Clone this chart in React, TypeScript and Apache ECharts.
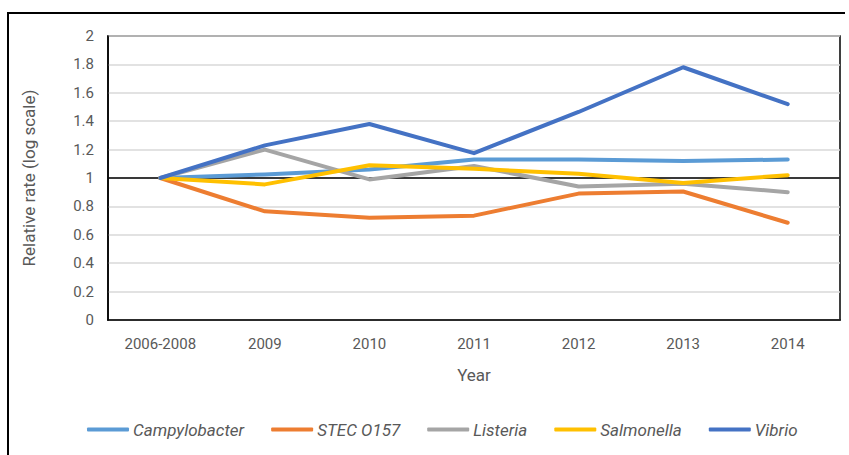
import React, { useEffect, useRef } from "react";
import * as echarts from "echarts";

const categories = ["2006-2008", "2009", "2010", "2011", "2012", "2013", "2014"];
const campylobacter = [1, 1.025, 1.06, 1.13, 1.13, 1.12, 1.13];
const stec = [1, 0.765, 0.72, 0.735, 0.89, 0.905, 0.685];
const listeria = [1, 1.2, 0.99, 1.085, 0.94, 0.96, 0.9];
const salmonella = [1, 0.955, 1.09, 1.065, 1.03, 0.965, 1.02];
const vibrio = [1, 1.23, 1.38, 1.175, 1.465, 1.78, 1.52];
const yTicks = [0, 0.2, 0.4, 0.6, 0.8, 1, 1.2, 1.4, 1.6, 1.8, 2];

const seriesDefs = [
  { name: "Campylobacter", data: campylobacter, color: "#5B9BD5" },
  { name: "STEC O157", data: stec, color: "#ED7D31" },
  { name: "Listeria", data: listeria, color: "#A5A5A5" },
  { name: "Salmonella", data: salmonella, color: "#FFC000" },
  { name: "Vibrio", data: vibrio, color: "#4472C4" },
];

const FONT = "Roboto, sans-serif";

export default function App() {
  const ref = useRef<HTMLDivElement>(null);
  useEffect(() => {
    if (!ref.current) return;
    const chart = echarts.init(ref.current, null, { renderer: "svg" });
    chart.setOption({
      animation: false,
      backgroundColor: "#ffffff",
      grid: {
        left: 108,
        top: 36,
        right: 9,
        bottom: 135,
        show: true,
        borderColor: "#000000",
        borderWidth: 1.5,
      },
      graphic: [
        {
          type: "polyline",
          shape: { points: [[8, 455], [8, 13], [845, 13]] },
          style: { stroke: "#000000", lineWidth: 2, fill: "none" },
          silent: true,
        },
      ],
      legend: {
        bottom: 12,
        left: 82,
        itemWidth: 42,
        itemHeight: 4,
        itemGap: 27,
        icon: "roundRect",
        textStyle: {
          fontFamily: FONT,
          fontStyle: "italic",
          fontSize: 17,
          color: "#595959",
          padding: [0, 0, 0, -1],
        },
        data: seriesDefs.map((s) => s.name),
      },
      xAxis: {
        type: "category",
        data: categories,
        boundaryGap: true,
        name: "Year",
        nameLocation: "middle",
        nameGap: 46,
        nameTextStyle: { fontFamily: FONT, fontSize: 17, color: "#595959" },
        axisLine: { show: true, lineStyle: { color: "#000000", width: 1.5 } },
        axisTick: { show: false },
        axisLabel: { fontFamily: FONT, fontSize: 15, color: "#595959", margin: 16 },
      },
      yAxis: {
        type: "value",
        min: 0,
        max: 2,
        interval: 0.2,
        name: "Relative rate (log scale)",
        nameLocation: "middle",
        nameGap: 71,
        nameTextStyle: { fontFamily: FONT, fontSize: 17, color: "#595959" },
        axisLine: { show: true, lineStyle: { color: "#000000", width: 1.5 } },
        axisTick: { show: false },
        axisLabel: {
          fontFamily: FONT,
          fontSize: 15,
          color: "#595959",
          margin: 14,
          formatter: (v: number) => {
            const t = yTicks.find((x) => Math.abs(x - v) < 1e-6);
            return String(t !== undefined ? Number(t.toFixed(1)) : v);
          },
        },
        splitLine: { show: true, lineStyle: { color: "#D9D9D9", width: 1.5 } },
      },
      series: seriesDefs.map((s, i) => ({
        name: s.name,
        type: "line",
        data: s.data,
        symbol: "none",
        color: s.color,
        lineStyle: { color: s.color, width: 4, cap: "round", join: "round" },
        z: 3,
        ...(i === 0
          ? {
              markLine: {
                silent: true,
                symbol: "none",
                label: { show: false },
                lineStyle: { color: "#000000", width: 1.5, type: "solid" },
                data: [{ yAxis: 1 }],
                z: 1,
              },
            }
          : {}),
      })),
    });
    return () => chart.dispose();
  }, []);
  return (
    <div
      ref={ref}
      style={{ position: "fixed", left: 0, top: 0, width: 849, height: 455 }}
    />
  );
}
